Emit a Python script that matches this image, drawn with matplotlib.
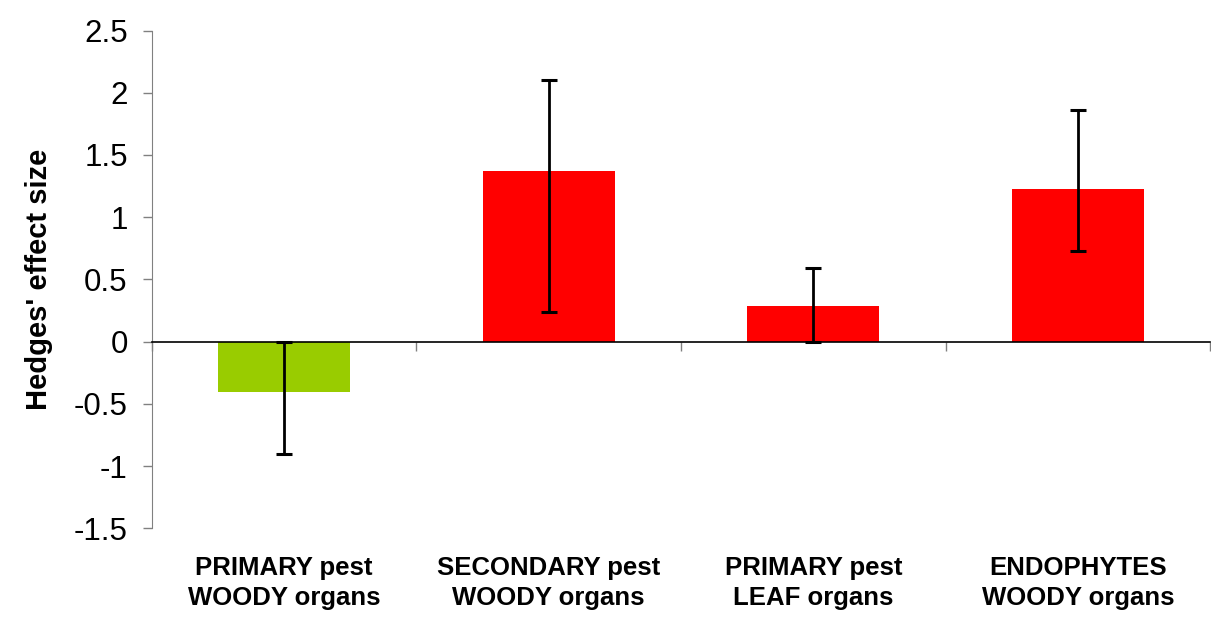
import numpy as np
import matplotlib.pyplot as plt

plt.rcParams['font.family'] = ['Liberation Sans', 'DejaVu Sans']

# data
groups = ['PRIMARY pest\nWOODY organs', 'SECONDARY pest\nWOODY organs',
          'PRIMARY pest\nLEAF organs', 'ENDOPHYTES\nWOODY organs']
effect = [-0.40, 1.37, 0.29, 1.23]
ci_low = [-0.90, 0.24, 0.00, 0.73]
ci_high = [0.00, 2.10, 0.59, 1.86]
bar_colors = ['#99CC00', '#FF0000', '#FF0000', '#FF0000']

x = np.arange(len(groups))
effect = np.array(effect)
yerr = np.vstack((effect - np.array(ci_low), np.array(ci_high) - effect))

fig = plt.figure(figsize=(12.11, 6.20), dpi=100)
ax = fig.add_axes([0.1255, 0.1476, 0.8737, 0.8032])

ax.bar(x, effect, width=0.5, color=bar_colors, zorder=2)
ax.errorbar(x, effect, yerr=yerr, fmt='none', ecolor='black',
            elinewidth=2, capsize=6, capthick=2.2, zorder=3)

ax.set_xlim(-0.5, len(groups) - 0.5)
ax.set_ylim(-1.5, 2.5)
ax.set_yticks(np.arange(-1.5, 2.51, 0.5))
ax.set_yticklabels(['%g' % v for v in np.arange(-1.5, 2.51, 0.5)])

# spines: only left, x axis drawn through zero
for s in ['top', 'right']:
    ax.spines[s].set_visible(False)
ax.spines['left'].set_color('#808080')
ax.spines['bottom'].set_position(('data', 0))
ax.spines['bottom'].set_color('black')
ax.spines['bottom'].set_linewidth(1.2)

ax.set_xticks(np.arange(-0.5, len(groups), 1.0))
ax.set_xticklabels([])
ax.tick_params(axis='x', direction='out', length=6.5, width=1, color='#808080')
ax.tick_params(axis='y', direction='out', length=6.5, width=1, color='#808080',
               labelsize=22.5, pad=11)

for i, g in enumerate(groups):
    ax.annotate(g, xy=(i, 0), xycoords=('data', 'axes fraction'),
                xytext=(0, -20), textcoords='offset points',
                ha='center', va='top', fontsize=18.5, fontweight='bold',
                linespacing=1.32)

ax.set_ylabel("Hedges' effect size", fontsize=21, fontweight='bold', labelpad=15)

fig.savefig('out.png', dpi=100)
